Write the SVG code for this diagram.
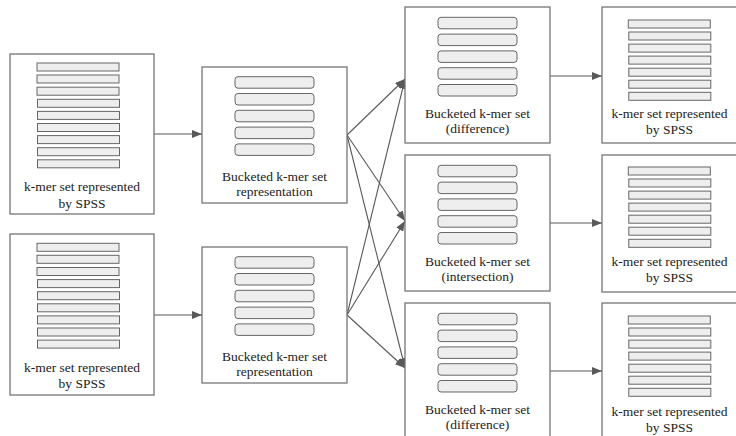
<svg xmlns="http://www.w3.org/2000/svg" width="736" height="436" viewBox="0 0 736 436">
<defs>
<style>
.box{fill:#fff;stroke:#757575;stroke-width:1.3}
.bar{fill:#eeeeee;stroke:#666;stroke-width:1}
.rbar{fill:#eeeeee;stroke:#666;stroke-width:1}
.c{stroke:#595959;stroke-width:1.1;fill:none;marker-end:url(#ah)}
</style>
<marker id="ah" markerUnits="userSpaceOnUse" markerWidth="11" markerHeight="8" refX="10" refY="4" orient="auto">
<path d="M0,0 L10,4 L0,8 z" fill="#595959"/>
</marker>
<g id="bars9">
<rect class="bar" x="0" y="0" width="82" height="8"/>
<rect class="bar" x="0" y="12" width="82" height="8"/>
<rect class="bar" x="0" y="24.2" width="82" height="8"/>
<rect class="bar" x="0.5" y="36.3" width="82" height="8"/>
<rect class="bar" x="0.5" y="48.4" width="82" height="8"/>
<rect class="bar" x="0.5" y="60.5" width="82" height="8"/>
<rect class="bar" x="0.5" y="72.6" width="82" height="8"/>
<rect class="bar" x="0.5" y="84.7" width="82" height="8"/>
<rect class="bar" x="0.5" y="96.8" width="82" height="8"/>
</g>
<g id="bars7">
<rect class="bar" x="0" y="0" width="82" height="8"/>
<rect class="bar" x="0.5" y="12" width="82" height="8"/>
<rect class="bar" x="0.5" y="24.1" width="82" height="8"/>
<rect class="bar" x="0.5" y="36.1" width="82" height="8"/>
<rect class="bar" x="0.5" y="48.2" width="82" height="8"/>
<rect class="bar" x="0.5" y="60.2" width="82" height="8"/>
<rect class="bar" x="0.5" y="72.3" width="82" height="8"/>
</g>
<g id="rbars5">
<rect class="rbar" x="0" y="0" width="79" height="11.5" rx="3"/>
<rect class="rbar" x="0" y="16.8" width="79" height="11.5" rx="3"/>
<rect class="rbar" x="0" y="33.6" width="79" height="11.5" rx="3"/>
<rect class="rbar" x="0" y="50.4" width="79" height="11.5" rx="3"/>
<rect class="rbar" x="0" y="67.2" width="79" height="11.5" rx="3"/>
</g>
</defs>
<rect width="736" height="436" fill="#fff"/>

<g id="connectors">
<line class="c" x1="154" y1="134" x2="202" y2="134"/>
<line class="c" x1="154" y1="315" x2="202" y2="315"/>
<line class="c" x1="347" y1="135" x2="405" y2="79"/>
<line class="c" x1="347" y1="135" x2="405" y2="221"/>
<line class="c" x1="347" y1="135" x2="405" y2="368"/>
<line class="c" x1="347" y1="315" x2="405" y2="79"/>
<line class="c" x1="347" y1="315" x2="405" y2="221"/>
<line class="c" x1="347" y1="315" x2="405" y2="368"/>
<line class="c" x1="550" y1="76" x2="602" y2="76"/>
<line class="c" x1="550" y1="223" x2="602" y2="223"/>
<line class="c" x1="550" y1="371" x2="602" y2="371"/>
</g>

<g font-family="Liberation Serif, Times New Roman, serif" font-size="13.5" fill="#222" text-anchor="middle">
<g id="spss-in-1">
<rect class="box" x="10" y="54" width="144" height="160"/>
<use href="#bars9" x="37" y="63"/>
<text x="82" y="191">k-mer set represented</text>
<text x="82" y="207.5">by SPSS</text>
</g>
<g id="spss-in-2">
<rect class="box" x="10" y="234" width="144" height="161"/>
<use href="#bars9" x="37" y="243.3"/>
<text x="82" y="371.5">k-mer set represented</text>
<text x="82" y="388">by SPSS</text>
</g>

<g id="bucket-1">
<rect class="box" x="202" y="67" width="145" height="136"/>
<use href="#rbars5" x="235" y="76.7"/>
<text x="274.5" y="181">Bucketed k-mer set</text>
<text x="274.5" y="196">representation</text>
</g>
<g id="bucket-2">
<rect class="box" x="202" y="247" width="145" height="136"/>
<use href="#rbars5" x="235" y="256.7"/>
<text x="274.5" y="361">Bucketed k-mer set</text>
<text x="274.5" y="376">representation</text>
</g>

<g id="diff-1">
<rect class="box" x="405" y="7" width="145" height="136"/>
<use href="#rbars5" x="438" y="17.3"/>
<text x="477.5" y="118">Bucketed k-mer set</text>
<text x="477.5" y="133">(difference)</text>
</g>
<g id="intersection">
<rect class="box" x="405" y="155" width="145" height="136"/>
<use href="#rbars5" x="438" y="165.3"/>
<text x="477.5" y="266">Bucketed k-mer set</text>
<text x="477.5" y="281">(intersection)</text>
</g>
<g id="diff-2">
<rect class="box" x="405" y="303" width="145" height="140"/>
<use href="#rbars5" x="438" y="313.3"/>
<text x="477.5" y="414">Bucketed k-mer set</text>
<text x="477.5" y="429">(difference)</text>
</g>

<g id="spss-out-1">
<rect class="box" x="602" y="7" width="140" height="136"/>
<use href="#bars7" x="628.3" y="20"/>
<text x="669.5" y="118">k-mer set represented</text>
<text x="669.5" y="134">by SPSS</text>
</g>
<g id="spss-out-2">
<rect class="box" x="602" y="155" width="140" height="137"/>
<use href="#bars7" x="628.3" y="167"/>
<text x="669.5" y="266">k-mer set represented</text>
<text x="669.5" y="282">by SPSS</text>
</g>
<g id="spss-out-3">
<rect class="box" x="602" y="303" width="140" height="140"/>
<use href="#bars7" x="628.3" y="316"/>
<text x="669.5" y="416">k-mer set represented</text>
<text x="669.5" y="432">by SPSS</text>
</g>
</g>
</svg>
